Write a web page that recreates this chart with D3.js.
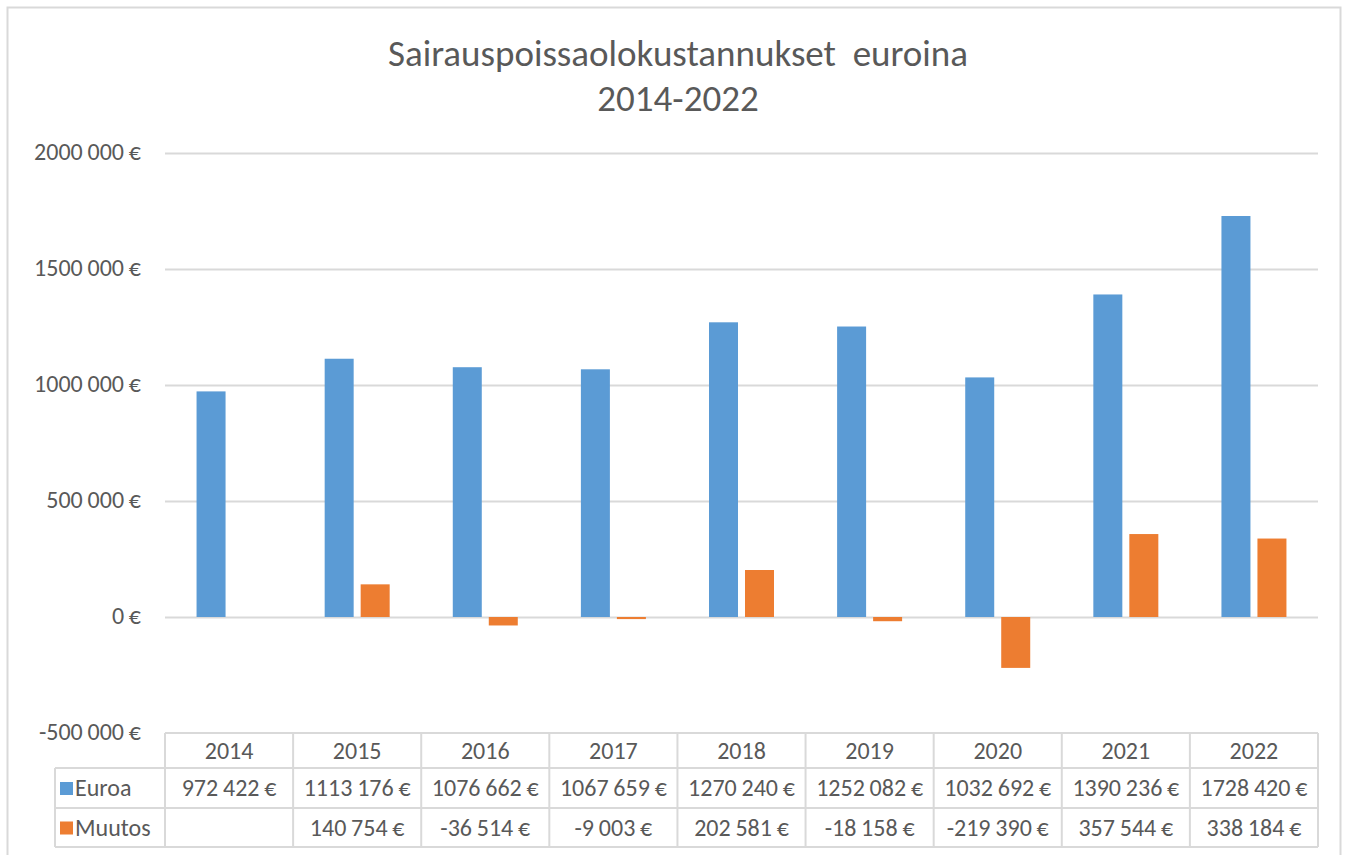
<!DOCTYPE html>
<html>
<head>
<meta charset="utf-8">
<script src="https://cdn.jsdelivr.net/npm/d3@7"></script>
<style>
  body { margin: 0; background: #fff; }
  text { font-family: "Carlito", "Liberation Sans Narrow", "Liberation Sans", sans-serif; fill: #595959; white-space: pre; }
</style>
</head>
<body>
<div id="chart"></div>
<script>
// data
var years = ["2014", "2015", "2016", "2017", "2018", "2019", "2020", "2021", "2022"];
var euroa = [972422, 1113176, 1076662, 1067659, 1270240, 1252082, 1032692, 1390236, 1728420];
var muutos = [null, 140754, -36514, -9003, 202581, -18158, -219390, 357544, 338184];
var series_names = ["Euroa", "Muutos"];
var y_ticks = [-500000, 0, 500000, 1000000, 1500000, 2000000];

// settings
var width = 1350;
var height = 855;
var plot_left = 165;
var plot_right = 1318;
var plot_top = 153;
var plot_bottom = 733;
var colors = ["#5B9BD5", "#ED7D31"];
var grid_color = "#d9d9d9";
var bar_width = 29;
var bar_gap = 7;
var table_font = 24;

// finnish-ish excel format: only last group separated
function fmt(v) {
    var s = Math.abs(Math.round(v)).toString();
    if (s.length > 3) s = s.slice(0, s.length - 3) + "\u2009" + s.slice(s.length - 3);
    return (v < 0 ? "-" : "") + s + "\u2009€";
}

var svg = d3.select("#chart").append("svg")
    .attr("width", width)
    .attr("height", height);

// outer frame
svg.append("rect")
    .attr("x", 7.5).attr("y", 7.5)
    .attr("width", 1333).attr("height", 860)
    .attr("fill", "#fff")
    .attr("stroke", grid_color)
    .attr("stroke-width", 2);

// title
svg.append("text")
    .attr("x", 678).attr("y", 66)
    .attr("text-anchor", "middle")
    .attr("font-size", 37)
    .text("Sairauspoissaolokustannukset  euroina");
svg.append("text")
    .attr("x", 678).attr("y", 111)
    .attr("text-anchor", "middle")
    .attr("font-size", 37)
    .text("2014-2022");

var x = d3.scaleBand()
    .domain(years)
    .range([plot_left, plot_right]);

var y = d3.scaleLinear()
    .domain([-500000, 2000000])
    .range([plot_bottom, plot_top]);

// gridlines
svg.append("g").selectAll("line")
    .data(y_ticks.filter(function(d) { return d > -500000; }))
    .enter().append("line")
    .attr("x1", plot_left).attr("x2", plot_right)
    .attr("y1", function(d) { return Math.round(y(d)) + 0.5; })
    .attr("y2", function(d) { return Math.round(y(d)) + 0.5; })
    .attr("stroke", grid_color)
    .attr("stroke-width", 2);

// y labels
svg.append("g").selectAll("text")
    .data(y_ticks)
    .enter().append("text")
    .attr("x", 141)
    .attr("y", function(d) { return y(d) + 7; })
    .attr("text-anchor", "end")
    .attr("font-size", 24)
    .text(function(d) { return fmt(d); });

// bars
var all_series = [euroa, muutos];
all_series.forEach(function(vals, si) {
    svg.append("g").selectAll("rect")
        .data(vals.map(function(v, i) { return {year: years[i], v: v}; })
            .filter(function(d) { return d.v !== null; }))
        .enter().append("rect")
        .attr("x", function(d) {
            var c = x(d.year) + x.bandwidth() / 2;
            return si == 0 ? c - bar_gap / 2 - bar_width : c + bar_gap / 2;
        })
        .attr("y", function(d) { return y(Math.max(0, d.v)); })
        .attr("width", bar_width)
        .attr("height", function(d) { return Math.abs(y(d.v) - y(0)); })
        .attr("fill", colors[si]);
});

// data table
var row_tops = [733, 768, 808, 847];
var table_left = 55;
var tg = svg.append("g");

// horizontal lines
tg.append("line")
    .attr("x1", plot_left).attr("x2", plot_right)
    .attr("y1", row_tops[0]).attr("y2", row_tops[0])
    .attr("stroke", grid_color).attr("stroke-width", 2);
[1, 2, 3].forEach(function(r) {
    tg.append("line")
        .attr("x1", table_left).attr("x2", plot_right)
        .attr("y1", row_tops[r]).attr("y2", row_tops[r])
        .attr("stroke", grid_color).attr("stroke-width", 2);
});
// vertical lines
tg.append("line")
    .attr("x1", table_left).attr("x2", table_left)
    .attr("y1", row_tops[1]).attr("y2", row_tops[3])
    .attr("stroke", grid_color).attr("stroke-width", 2);
tg.selectAll("line.v")
    .data(years.concat(["end"]))
    .enter().append("line")
    .attr("class", "v")
    .attr("x1", function(d, i) { return plot_left + i * x.bandwidth(); })
    .attr("x2", function(d, i) { return plot_left + i * x.bandwidth(); })
    .attr("y1", row_tops[0]).attr("y2", row_tops[3])
    .attr("stroke", grid_color).attr("stroke-width", 2);

// header
tg.selectAll("text.year")
    .data(years)
    .enter().append("text")
    .attr("class", "year")
    .attr("x", function(d) { return x(d) + x.bandwidth() / 2; })
    .attr("y", (row_tops[0] + row_tops[1]) / 2 + 8)
    .attr("text-anchor", "middle")
    .attr("font-size", table_font)
    .text(function(d) { return d; });

// rows
all_series.forEach(function(vals, si) {
    var cy = (row_tops[si + 1] + row_tops[si + 2]) / 2;
    tg.append("rect")
        .attr("x", 60).attr("y", cy - 6)
        .attr("width", 13).attr("height", 13)
        .attr("fill", colors[si]);
    tg.append("text")
        .attr("x", 75).attr("y", cy + 8)
        .attr("font-size", table_font)
        .text(series_names[si]);
    tg.selectAll("text.s" + si)
        .data(vals)
        .enter().append("text")
        .attr("class", "s" + si)
        .attr("x", function(d, i) { return x(years[i]) + x.bandwidth() / 2; })
        .attr("y", cy + 8)
        .attr("text-anchor", "middle")
        .attr("font-size", table_font)
        .text(function(d) { return d === null ? "" : fmt(d); });
});
</script>
</body>
</html>
